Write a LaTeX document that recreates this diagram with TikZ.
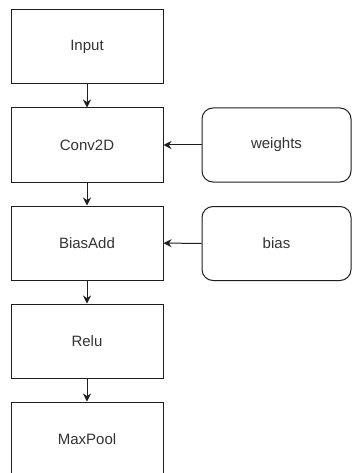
\documentclass[tikz,border=0pt]{standalone}
\usepackage{fontspec}
\setmainfont{Liberation Sans}
\usetikzlibrary{arrows.meta}
\definecolor{edge}{HTML}{1E1E1E}
\definecolor{txt}{HTML}{333333}
\begin{document}
\begin{tikzpicture}[x=1pt,y=-1pt,
  opbox/.style={draw=edge, line width=1pt, minimum width=152pt, minimum height=74pt, inner sep=0pt, font=\fontsize{15}{18}\selectfont, text=txt},
  parbox/.style={opbox, rounded corners=11pt, minimum width=149pt},
  conn/.style={draw=edge, line width=1pt, -{Stealth[length=8pt,width=8pt]}}]
\useasboundingbox (0,0) rectangle (352,473);
\clip (0,0) rectangle (352,473);
\fill[white] (0,0) rectangle (352,473);
\node[opbox] (input) at (87,46.5) {Input};
\node[opbox] (conv) at (87,145) {Conv2D};
\node[opbox] (bias) at (87,243) {BiasAdd};
\node[opbox] (relu) at (87,341) {Relu};
\node[opbox] (pool) at (87,439) {MaxPool};
\node[parbox] (w) at (276.5,145) {weights};
\node[parbox] (b) at (276.5,243.5) {bias};
\draw[conn] (input) -- (conv);
\draw[conn] (conv) -- (bias);
\draw[conn] (bias) -- (relu);
\draw[conn] (relu) -- (pool);
\draw[conn] (w) -- (conv);
\draw[conn] (b) -- (bias);
\end{tikzpicture}
\end{document}
